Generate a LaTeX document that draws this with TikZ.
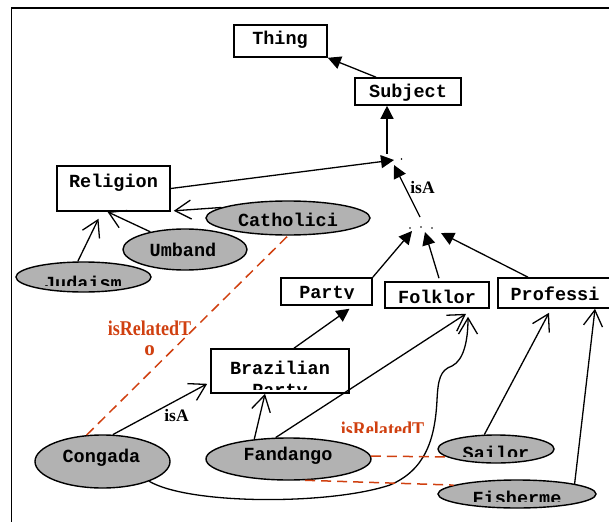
\documentclass[tikz,border=0pt]{standalone}
\usepackage{fontspec}
\setmainfont{Liberation Serif}
\setmonofont{Liberation Mono}
\usetikzlibrary{arrows.meta,calc,shapes.geometric}
\definecolor{ellgray}{RGB}{178,178,178}
\definecolor{relred}{RGB}{208,64,16}
\begin{document}
\begin{tikzpicture}[x=1pt,y=-1pt,
  box/.style={draw, line width=1.6pt, fill=white, inner sep=0pt},
  ell/.style={ellipse, draw, line width=1.4pt, fill=ellgray, inner sep=0pt},
  cls/.style={font=\ttfamily\bfseries\fontsize{18.5}{22}\selectfont, inner sep=0pt, anchor=base},
  isalbl/.style={font=\bfseries\fontsize{17.5}{20}\selectfont, inner sep=0pt, anchor=base},
  rellbl/.style={font=\bfseries\fontsize{21}{20}\selectfont, text=relred, inner sep=0pt},
  fa/.style={line width=1.3pt, -{Triangle[length=13pt,width=13pt]}},
  oa/.style={line width=1.3pt, -{Straight Barb[length=16pt,width=19pt]}},
  reldash/.style={draw=relred, line width=1.5pt, dash pattern=on 10pt off 6pt}
]
\useasboundingbox (0,0) rectangle (609,521);
\clip (0,0) rectangle (609,521);
\draw[line width=1.5pt] (11.5,8) rectangle (640,540);

% class boxes
\node[box, minimum width=93pt, minimum height=32pt] (Thing) at (280.5,41) {};
\node[box, minimum width=106pt, minimum height=27pt] (Subject) at (408,91.5) {};
\node[box, minimum width=113pt, minimum height=45pt] (Religion) at (113.5,188.5) {};
\node[box, minimum width=91pt, minimum height=27pt] (Party) at (326.5,291.5) {};
\node[box, minimum width=104pt, minimum height=26pt] (Folklor) at (437,295) {};
\node[box, minimum width=114pt, minimum height=30pt] (Professi) at (555,293) {};
\node[box, minimum width=138pt, minimum height=44pt] (BrazParty) at (280,371) {};

% instances
\node[ell, minimum width=164pt, minimum height=34pt] (Catholici) at (288,218) {};
\node[ell, minimum width=124pt, minimum height=41pt] (Umband) at (185,249.5) {};
\node[ell, minimum width=135pt, minimum height=30pt] (Judaism) at (83.5,277) {};
\node[ell, minimum width=135pt, minimum height=53pt] (Congada) at (102.5,461.5) {};
\node[ell, minimum width=165pt, minimum height=42pt] (Fandango) at (288.5,459) {};
\node[ell, minimum width=116pt, minimum height=28pt] (Sailor) at (496,449) {};
\node[ell, minimum width=158pt, minimum height=28pt] (Fisherme) at (517,494) {};

% texts
\node[cls] (tThing) at (280,45) {Thing};
\node[cls] (tSubject) at (408,97.5) {Subject};
\node[cls] (tReligion) at (113.5,187) {Religion};
\node[cls] (tFolklor) at (437,303) {Folklor};
\node[cls] (tProfessi) at (555,300) {Professi};
\node[cls] (tCatholici) at (288,226.5) {Catholici};
\node[cls] (tUmband) at (183,256.5) {Umband};
\node[cls] (tCongada) at (101.5,462) {Congada};
\node[cls] (tFandango) at (288,460.5) {Fandango};
\begin{scope}
  \clip (270,270) rectangle (380,298.6);
  \node[cls] (tParty) at (327,298.8) {Party};
\end{scope}
\begin{scope}
  \clip (200,340) rectangle (360,389);
  \node[cls, align=center, anchor=north] (tBraz) at (280,360.7) {Brazilian\\Party};
\end{scope}
\begin{scope}
  \clip (10,255) rectangle (160,285);
  \node[cls] (tJudaism) at (83,289) {Judaism};
\end{scope}
\begin{scope}
  \clip (430,430) rectangle (560,456.5);
  \node[cls] (tSailor) at (496,459) {Sailor};
\end{scope}
\begin{scope}
  \clip (430,475) rectangle (609,501.5);
  \node[cls] (tFisherme) at (517,504) {Fisherme};
\end{scope}

% junction points
\coordinate (J1s) at (387,154);
\coordinate (J1a) at (394,160);
\coordinate (J1b) at (394,165);
\coordinate (J2t) at (420,217);
\coordinate (J2a) at (412,231);
\coordinate (J2b) at (425,232);
\coordinate (J2c) at (441,233);
\fill (401.5,159) circle (0.9pt);
\fill (410,228) circle (0.9pt);
\fill (421,227) circle (0.9pt);
\fill (432,228) circle (0.9pt);

% isA hierarchy (filled heads)
\draw[fa] ([xshift=-32pt]Subject.north) -- (Thing.south east);
\draw[fa] (J1s) -- (J1s |- Subject.south);
\draw[fa] (Religion.east) -- (J1a);
\draw[fa] (J2t) -- (J1b);
\draw[fa] (Party.north east) -- (J2a);
\draw[fa] ([xshift=2pt,yshift=3pt]Folklor.north) -- (J2b);
\draw[fa] ([xshift=-27pt]Professi.north) -- (J2c);
\draw[fa] ([xshift=14pt]BrazParty.north) -- ([xshift=23pt,yshift=-3pt]Party.south);

% instance-of (open heads)
\draw[oa] (Catholici.171) -- ([xshift=3pt,yshift=1pt]Religion.south east);
\draw[oa] (Umband.153) -- ([xshift=-6pt]Religion.south);
\draw[oa] (Judaism.110) -- ([xshift=-15pt,yshift=-7pt]Religion.south);
\draw[oa] (Congada.69) -- ([xshift=-3pt,yshift=10pt]BrazParty.south west);
\draw[oa] (Fandango.150) -- ([xshift=-15pt]BrazParty.south);
\draw[oa] (Fandango.121) -- ([xshift=29pt,yshift=-5pt]Folklor.south);
\draw[oa] (Congada.-23) .. controls (190,505) and (330,505) .. (390,485)
  .. controls (425,470) and (435,440) .. (437,400)
  .. controls (438,380) and (440,370) .. (452,366)
  .. controls (464,360) and (468,340) .. ([xshift=31pt,yshift=-8pt]Folklor.south);
\draw[oa] (Sailor.129) -- ([xshift=-6pt,yshift=-4pt]Professi.south);
\draw[oa] (Fisherme.10) -- ([xshift=40pt]Professi.south);

% isRelatedTo (dashed)
\draw[reldash] (Congada.121) -- (Catholici.south);
\draw[reldash] (Fandango.2) -- (Sailor.189);
\draw[reldash] (Fandango.-52) -- (Fisherme.172);

% labels
\node[isalbl] (isA1) at (422.5,193.3) {isA};
\node[isalbl] (isA2) at (176.5,421.7) {isA};
\node[rellbl, align=center, anchor=north] (rel1) at (149.5,320.5) {\scalebox{0.86}[1]{isRelatedT}\\o};
\begin{scope}
  \clip (330,410) rectangle (440,432);
  \node[rellbl, anchor=base] (rel2) at (382.5,436) {\scalebox{0.86}[1]{isRelatedT}};
\end{scope}
\end{tikzpicture}
\end{document}
